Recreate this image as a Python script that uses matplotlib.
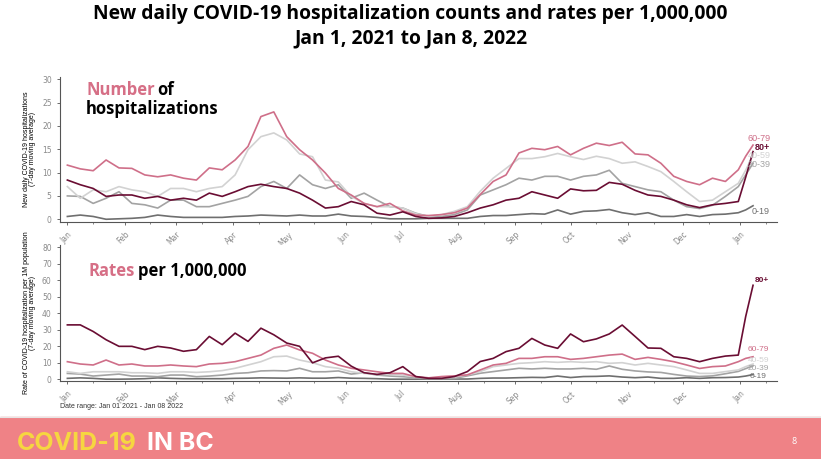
import matplotlib
matplotlib.use("Agg")
import matplotlib.pyplot as plt
import matplotlib.dates as mdates
import pandas as pd

W, H = 821, 459

# sample dates: weekly through 2021, then the last days of the series
dates = list(pd.date_range("2021-01-01", "2021-12-31", freq="7D")) + [pd.Timestamp("2022-01-04"), pd.Timestamp("2022-01-08")]

groups = ["0-19", "20-39", "40-59", "60-79", "80+"]
colors = {"0-19": "#6f6f6f", "20-39": "#a3a3a3", "40-59": "#d2d2d2", "60-79": "#cf6f89", "80+": "#6a0d33"}

# daily hospitalizations (7-day avg)
c_0_19 = [0.6, 0.9, 0.6, 0.0, 0.1, 0.2, 0.4, 0.9, 0.6, 0.4, 0.4, 0.4, 0.4, 0.6, 0.7, 0.9, 0.8, 0.7, 0.9, 0.7, 0.7, 1.1, 0.7, 0.6, 0.4, 0.1, 0.1, 0.1,
          0.2, 0.2, 0.2, 0.2, 0.6, 0.8, 0.8, 1.0, 1.2, 1.1, 2.0, 1.1, 1.7, 1.8, 2.1, 1.4, 1.0,
          1.4, 0.6, 0.6, 1.0, 0.6, 1.0, 1.1, 1.4, 2.0, 2.9]
c_20_39 = [5.0, 4.9, 3.4, 4.5, 5.9, 3.4, 3.1, 2.4, 4.1, 4.1, 2.7, 2.7, 3.4, 4.1, 4.9, 7.0, 8.1, 6.6, 9.5, 7.4, 6.6, 7.4, 4.5, 5.6, 4.1, 2.7, 2.4, 1.3,
           0.6, 0.6, 1.0, 2.0, 5.2, 6.3, 7.4, 8.8, 8.4, 9.2, 9.2, 8.4, 9.2, 9.5, 10.5, 7.7, 7.0,
           6.3, 5.9, 4.1, 2.7, 2.3, 3.0, 4.9, 7.0, 9.5, 12.0]
c_40_59 = [7.0, 4.5, 6.3, 5.9, 7.0, 6.3, 5.9, 4.9, 6.6, 6.6, 5.9, 6.6, 7.0, 9.5, 14.9, 17.7, 18.5, 17.0, 14.0, 13.4, 8.4, 8.0, 4.9, 3.4, 2.7, 2.7, 2.4, 1.2,
           0.6, 1.0, 1.7, 2.7, 6.0, 8.8, 10.9, 13.0, 13.0, 13.4, 14.1, 13.4, 12.8, 13.5, 13.0, 12.0, 12.3,
           11.3, 10.2, 8.1, 5.9, 3.8, 4.1, 5.9, 7.7, 10.5, 13.8]
c_60_79 = [11.6, 10.8, 10.4, 12.7, 11.0, 10.9, 9.5, 9.1, 9.5, 8.8, 8.4, 11.0, 10.6, 12.7, 15.6, 22.0, 23.0, 17.7, 14.9, 12.7, 9.9, 6.6, 5.2, 3.4, 2.7, 3.4, 1.8, 0.9,
           0.8, 1.0, 1.4, 2.4, 5.3, 8.1, 9.5, 14.2, 15.2, 14.9, 15.6, 13.8, 15.2, 16.3, 15.8, 16.5, 14.0,
           13.8, 12.0, 9.2, 8.1, 7.4, 8.8, 8.1, 10.6, 13.5, 15.9]
c_80p = [8.4, 7.4, 6.6, 4.9, 5.2, 5.2, 4.5, 4.9, 4.1, 4.5, 4.1, 5.6, 4.9, 5.9, 7.0, 7.5, 7.0, 6.6, 5.6, 4.1, 2.4, 2.7, 3.8, 3.1, 1.3, 0.9, 1.6, 0.6,
         0.2, 0.3, 0.6, 1.4, 2.4, 3.1, 4.1, 4.5, 5.9, 5.2, 4.5, 6.5, 6.1, 6.2, 7.9, 7.5, 6.2,
         5.2, 4.9, 4.1, 3.1, 2.5, 3.1, 3.4, 3.8, 9.0, 14.5]

# rates per 1M population (7-day avg)
r_0_19 = [0.6, 0.9, 0.6, 0.1, 0.1, 0.2, 0.4, 0.9, 0.6, 0.4, 0.4, 0.4, 0.4, 0.6, 0.7, 0.9, 0.8, 0.7, 0.9, 0.7, 0.7, 1.1, 0.7, 0.6, 0.4, 0.1, 0.1, 0.1,
          0.2, 0.2, 0.2, 0.2, 0.6, 0.8, 0.8, 1.0, 1.2, 1.1, 2.0, 1.1, 1.7, 1.8, 2.1, 1.4, 1.0,
          1.4, 0.6, 0.6, 1.0, 0.6, 1.0, 1.1, 1.4, 2.0, 2.9]
r_20_39 = [3.6, 3.2, 2.0, 2.6, 3.2, 2.0, 2.0, 1.6, 2.6, 2.6, 1.6, 2.0, 2.6, 3.6, 4.0, 5.1, 5.3, 5.1, 6.7, 4.6, 4.6, 5.1, 3.2, 4.0, 2.6, 2.0, 1.6, 1.0,
           0.6, 0.6, 0.6, 2.1, 3.7, 4.7, 5.7, 6.7, 6.3, 6.7, 6.3, 6.3, 6.7, 6.1, 8.1, 6.1, 5.1,
           4.5, 4.2, 3.0, 2.0, 1.7, 2.1, 3.4, 4.8, 6.5, 8.2]
r_40_59 = [4.6, 3.6, 4.6, 4.6, 4.6, 4.0, 4.0, 3.6, 4.6, 4.6, 4.2, 4.6, 5.3, 6.7, 8.7, 10.7, 13.7, 14.1, 11.7, 10.1, 7.7, 6.7, 4.6, 3.6, 3.0, 3.0, 2.6, 1.6,
           0.9, 1.1, 1.5, 2.7, 4.7, 7.7, 8.7, 9.7, 10.1, 10.7, 10.3, 10.7, 10.3, 10.7, 9.7, 10.1, 8.7,
           9.7, 8.7, 7.7, 5.7, 3.6, 3.6, 4.7, 5.7, 7.7, 9.3]
r_60_79 = [10.7, 9.3, 8.7, 11.7, 8.7, 9.3, 8.1, 8.1, 8.7, 8.1, 7.7, 9.3, 9.7, 10.7, 12.7, 14.7, 18.8, 20.8, 17.8, 15.8, 11.7, 8.7, 6.7, 5.7, 4.6, 3.6, 3.6, 1.6,
           0.9, 1.7, 2.1, 2.7, 5.7, 8.7, 9.7, 12.7, 12.7, 13.7, 13.7, 12.1, 12.7, 13.7, 14.7, 15.3, 12.1,
           13.3, 12.1, 10.7, 8.7, 6.6, 7.7, 8.1, 10.7, 12.7, 13.7]
r_80p = [33, 33, 29, 24, 20, 20, 18, 20, 19, 17, 18, 26, 21, 28, 23, 31, 27, 22, 20, 10, 13, 14, 8, 4, 3, 4, 7.7, 1.7,
         0.6, 0.6, 1.7, 4.7, 10.8, 12.7, 16.8, 18.8, 24.8, 20.8, 18.8, 27.5, 22.8, 24.5, 27.5, 32.9, 26.0,
         19.0, 18.8, 13.7, 12.7, 10.7, 12.7, 14.1, 14.7, 38, 57]

counts = {"0-19": c_0_19, "20-39": c_20_39, "40-59": c_40_59, "60-79": c_60_79, "80+": c_80p}
rates = {"0-19": r_0_19, "20-39": r_20_39, "40-59": r_40_59, "60-79": r_60_79, "80+": r_80p}

# end labels (date, value)
count_labels = {"60-79": ("2022-01-05", 17.4), "80+": ("2022-01-09", 15.3), "40-59": ("2022-01-05", 13.6),
                "20-39": ("2022-01-05", 11.8), "0-19": ("2022-01-07", 1.6)}
rate_labels = {"80+": ("2022-01-09", 59.6), "60-79": ("2022-01-05", 17.8), "40-59": ("2022-01-05", 11.6),
               "20-39": ("2022-01-05", 6.4), "0-19": ("2022-01-06", 2.0)}

PINK = "#d66f86"
TICK = "#8a8a8a"
HEAD = "Open Sans"

fig = plt.figure(figsize=(W / 100, H / 100), dpi=100)
fig.patch.set_facecolor("white")


def fx(px):
    return px / W


def fy(py):
    return 1 - py / H


def style_axis(ax, ymax, step, ylabel):
    ax.set_xlim(pd.Timestamp("2020-12-28"), pd.Timestamp("2022-01-21"))
    ax.set_yticks(range(0, ymax + 1, step))
    ax.xaxis.set_major_locator(mdates.MonthLocator())
    ax.xaxis.set_major_formatter(mdates.DateFormatter("%b"))
    ax.xaxis.set_minor_locator(mdates.MonthLocator(bymonthday=15))
    for s in ["top", "right"]:
        ax.spines[s].set_visible(False)
    for s in ["left", "bottom"]:
        ax.spines[s].set_color("#555555")
        ax.spines[s].set_linewidth(0.8)
    ax.tick_params(axis="both", colors="#555555", labelcolor=TICK, labelsize=5.5, length=2.5, width=0.6)
    ax.tick_params(axis="x", which="minor", colors="#555555", length=1.5, width=0.5)
    for lab in ax.get_xticklabels():
        lab.set_rotation(45)
        lab.set_ha("right")
        lab.set_rotation_mode("anchor")
    ax.set_ylabel(ylabel, fontsize=5, family="Liberation Sans", linespacing=0.95, labelpad=4)


ax1 = fig.add_axes([fx(60), fy(221.6), fx(777 - 60), (221.6 - 76.9) / H])
for g in groups:
    ax1.plot(dates, counts[g], color=colors[g], lw=1.2, solid_joinstyle="round")
style_axis(ax1, 30, 5, "New daily COVID-19 hospitalizations\n(7-day moving average)")
ax1.set_ylim(-0.5, 30.5)
for g, (d, v) in count_labels.items():
    ax1.text(pd.Timestamp(d), v, g, color=colors[g], fontsize=6.5, va="center", ha="left",
             fontweight="bold" if g == "80+" else "normal", family="Liberation Sans")

ax2 = fig.add_axes([fx(60), fy(381), fx(777 - 60), 136 / H])
for g in groups:
    ax2.plot(dates, rates[g], color=colors[g], lw=1.2, solid_joinstyle="round")
style_axis(ax2, 80, 10, "Rate of COVID-19 hospitalization per 1M population\n(7-day moving average)")
ax2.set_ylim(-1, 81.4)
for g, (d, v) in rate_labels.items():
    ax2.text(pd.Timestamp(d), v, g, color=colors[g], fontsize=6, va="center", ha="left",
             fontweight="bold" if g == "80+" else "normal", family="Liberation Sans")

# title
fig.text(0.5, fy(19), "New daily COVID-19 hospitalization counts and rates per 1,000,000",
         ha="center", va="baseline", fontsize=13.9, fontweight="bold", family=HEAD)
fig.text(0.5, fy(43), "Jan 1, 2021 to Jan 8, 2022",
         ha="center", va="baseline", fontsize=13.9, fontweight="bold", family=HEAD)

# panel captions
fig.text(fx(86), fy(95), "Number", color=PINK, fontsize=12, fontweight="bold", family=HEAD, va="baseline")
fig.text(fx(157), fy(95), "of", color="black", fontsize=12, fontweight="bold", family=HEAD, va="baseline")
fig.text(fx(86), fy(114), "hospitalizations", color="black", fontsize=12, fontweight="bold", family=HEAD, va="baseline")
fig.text(fx(88), fy(275.5), "Rates", color=PINK, fontsize=12, fontweight="bold", family=HEAD, va="baseline")
fig.text(fx(138), fy(275.5), "per 1,000,000", color="black", fontsize=12, fontweight="bold", family=HEAD, va="baseline")

fig.text(fx(60), fy(408), "Date range: Jan 01 2021 - Jan 08 2022", fontsize=5, color="#333333",
         family="Liberation Sans", va="baseline")

# footer banner
fig.add_artist(plt.Rectangle((0, 0), 1, fy(417), transform=fig.transFigure, color="#ef8286", zorder=0))
fig.add_artist(plt.Line2D([0, 1], [fy(416.5), fy(416.5)], transform=fig.transFigure, color="#e6e6e6", lw=0.8))
t1 = fig.text(fx(17), fy(450), "COVID-19", color="#f6d640", fontsize=16, fontweight="bold",
              family="Inter", va="baseline")
fig.canvas.draw()
# fit the banner word to its width in the slide (about 120 px)
t1.set_fontsize(16 * 120 / t1.get_window_extent().width)
fig.canvas.draw()
bb = t1.get_window_extent()
fig.text((bb.x1 + 10) / W, fy(450), "IN BC", color="white", fontsize=t1.get_fontsize(), fontweight="bold",
         family="Inter", va="baseline")
fig.text(fx(791), fy(444), "8", color="white", fontsize=6.5, family=HEAD, va="baseline")

fig.savefig("out.png", dpi=100, facecolor="white")
